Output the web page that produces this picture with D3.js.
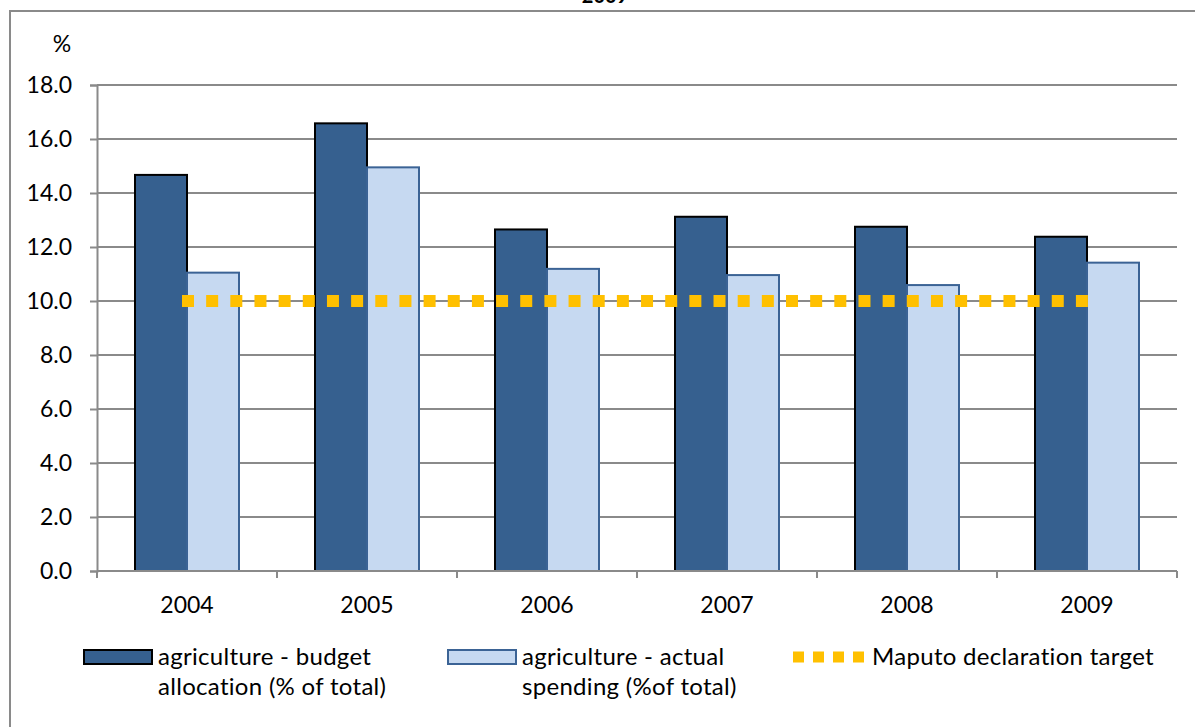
<!DOCTYPE html>
<html>
<head>
<meta charset="utf-8">
<script src="https://cdn.jsdelivr.net/npm/d3@7"></script>
<style>
  html, body { margin: 0; padding: 0; background: #fff; }
  svg { display: block; font-family: Lato, "Open Sans", sans-serif; }
</style>
</head>
<body>
<svg id="chart" width="1195" height="727"></svg>
<script>
// Agriculture share of the budget, by year
const years = ["2004", "2005", "2006", "2007", "2008", "2009"];
const budgetAllocation = [14.67, 16.58, 12.65, 13.12, 12.75, 12.38];
const actualSpending = [11.05, 14.95, 11.19, 10.96, 10.59, 11.42];
const maputoTarget = [10, 10, 10, 10, 10, 10];
const yTicks = [0, 2, 4, 6, 8, 10, 12, 14, 16, 18];
const seriesNames = [
  ["agriculture - budget", "allocation (% of total)"],
  ["agriculture - actual", "spending (%of total)"],
  ["Maputo declaration target"]
];

const svg = d3.select("#chart");
const plot = { left: 97, right: 1177, top: 85, bottom: 571 };

// Outer frame of the chart area
svg.append("rect")
  .attr("x", 10).attr("y", 11)
  .attr("width", 1200).attr("height", 760)
  .attr("fill", "none").attr("stroke", "#8a8a8a").attr("stroke-width", 2);

// Title (second line only)
svg.append("text")
  .attr("x", 605).attr("y", 3)
  .attr("text-anchor", "middle")
  .attr("font-weight", "bold").attr("font-size", 20)
  .text("2009");

const x0 = d3.scaleBand().domain(years)
  .range([plot.left, plot.right])
  .paddingInner(76 / 180).paddingOuter(38 / 180);
const x1 = d3.scaleBand().domain([0, 1]).range([0, x0.bandwidth()]);
const y = d3.scaleLinear().domain([0, 18]).range([plot.bottom, plot.top]);

// Horizontal gridlines
svg.append("g").selectAll("line")
  .data(yTicks.filter(d => d > 0))
  .join("line")
  .attr("x1", plot.left).attr("x2", plot.right)
  .attr("y1", d => y(d)).attr("y2", d => y(d))
  .attr("stroke", "#8a8a8a").attr("stroke-width", 2);

// Y axis
const yAxis = svg.append("g")
  .attr("transform", `translate(${plot.left},0)`)
  .call(d3.axisLeft(y).tickValues(yTicks).tickFormat(d3.format(".1f"))
    .tickSize(7).tickPadding(18));
yAxis.select(".domain").attr("stroke", "#8a8a8a").attr("stroke-width", 2);
yAxis.selectAll(".tick line").attr("stroke", "#8a8a8a").attr("stroke-width", 2);
yAxis.selectAll(".tick text")
  .attr("font-family", "Lato, sans-serif").attr("font-size", 23).attr("fill", "#000");

svg.append("text")
  .attr("x", 62).attr("y", 52)
  .attr("text-anchor", "middle")
  .attr("font-size", 23)
  .text("%");

// Bars
const groups = svg.append("g").selectAll("g")
  .data(years)
  .join("g")
  .attr("transform", d => `translate(${x0(d)},0)`);

groups.append("rect")
  .attr("x", x1(0)).attr("width", x1.bandwidth())
  .attr("y", (d, i) => y(budgetAllocation[i]))
  .attr("height", (d, i) => y(0) - y(budgetAllocation[i]))
  .attr("fill", "#36608f").attr("stroke", "#000").attr("stroke-width", 2);

groups.append("rect")
  .attr("x", x1(1)).attr("width", x1.bandwidth())
  .attr("y", (d, i) => y(actualSpending[i]))
  .attr("height", (d, i) => y(0) - y(actualSpending[i]))
  .attr("fill", "#c6d9f1").attr("stroke", "#3b6395").attr("stroke-width", 2);

// X axis
const xAxisLine = svg.append("g");
xAxisLine.append("line")
  .attr("x1", plot.left).attr("x2", plot.right)
  .attr("y1", y(0)).attr("y2", y(0))
  .attr("stroke", "#8a8a8a").attr("stroke-width", 2);
const bounds = d3.range(years.length + 1).map(i => plot.left + i * x0.step());
xAxisLine.selectAll(".tk")
  .data(bounds)
  .join("line")
  .attr("class", "tk")
  .attr("x1", d => d).attr("x2", d => d)
  .attr("y1", y(0)).attr("y2", y(0) + 7)
  .attr("stroke", "#8a8a8a").attr("stroke-width", 2);
xAxisLine.selectAll("text")
  .data(years)
  .join("text")
  .attr("x", d => x0(d) + x0.bandwidth() / 2)
  .attr("y", 613)
  .attr("text-anchor", "middle")
  .attr("font-size", 23)
  .text(d => d);

// Maputo declaration target line
const line = d3.line()
  .x(d => d[0]).y(d => d[1]);
const xc = d => x0(d) + x0.bandwidth() / 2;
const targetPts = years.map((d, i) => [xc(d), y(maputoTarget[i])]);
targetPts[0][0] -= 5;
targetPts[targetPts.length - 1][0] += 1;
svg.append("path")
  .attr("d", line(targetPts))
  .attr("fill", "none")
  .attr("stroke", "#ffc000").attr("stroke-width", 12)
  .attr("stroke-dasharray", "12 12.16");

// Legend
const legend = svg.append("g").attr("font-size", 24).attr("letter-spacing", 0.3);
legend.append("rect")
  .attr("x", 84).attr("y", 650).attr("width", 68).attr("height", 14)
  .attr("fill", "#36608f").attr("stroke", "#000").attr("stroke-width", 2);
legend.append("rect")
  .attr("x", 448).attr("y", 650).attr("width", 68).attr("height", 14)
  .attr("fill", "#c6d9f1").attr("stroke", "#3b6395").attr("stroke-width", 2);
legend.append("line")
  .attr("x1", 793).attr("x2", 866).attr("y1", 657).attr("y2", 657)
  .attr("stroke", "#ffc000").attr("stroke-width", 11)
  .attr("stroke-dasharray", "11 9");

const legendX = [158, 522, 872];
seriesNames.forEach((lines, i) => {
  const t = legend.append("text").attr("x", legendX[i]).attr("y", 665);
  lines.forEach((s, j) => {
    t.append("tspan").attr("x", legendX[i]).attr("dy", j === 0 ? 0 : 30).text(s);
  });
});
</script>
</body>
</html>
